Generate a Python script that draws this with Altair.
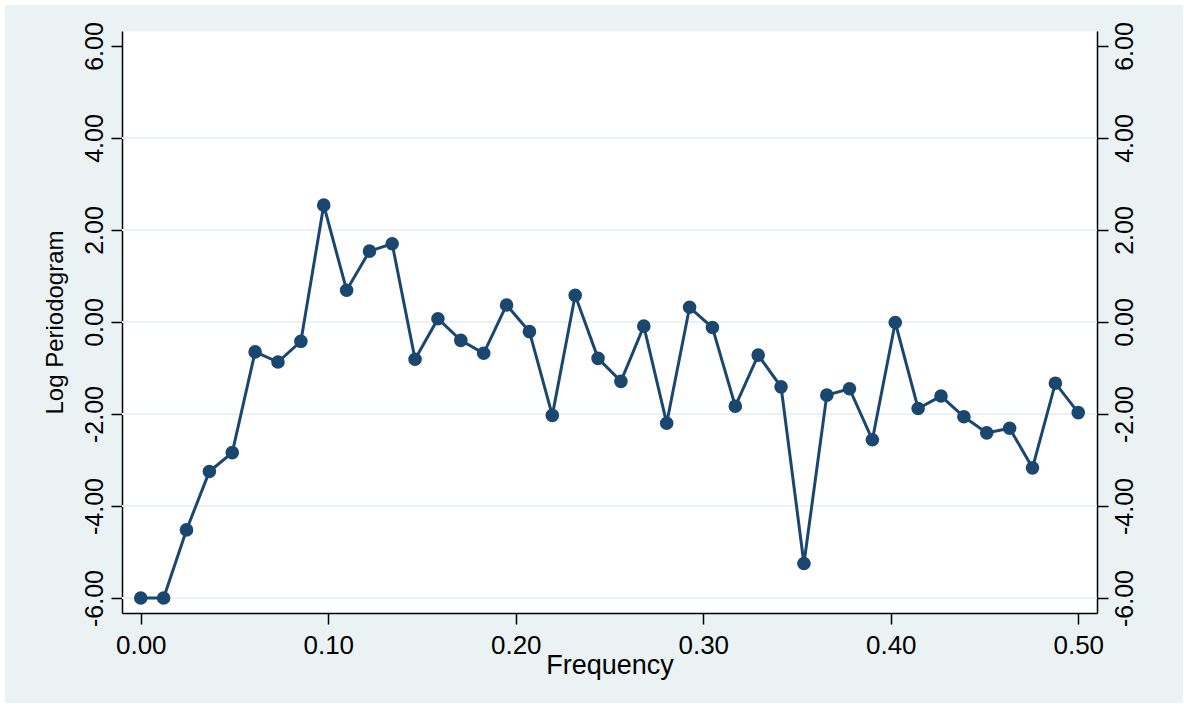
import altair as alt
import pandas as pd

# Fourier frequencies (cycles per observation) and log periodogram ordinates
freq = [
    0.0000, 0.0122, 0.0244, 0.0366, 0.0488, 0.0610, 0.0732, 0.0854, 0.0976, 0.1098,
    0.1220, 0.1341, 0.1463, 0.1585, 0.1707, 0.1829, 0.1951, 0.2073, 0.2195, 0.2317,
    0.2439, 0.2561, 0.2683, 0.2805, 0.2927, 0.3049, 0.3171, 0.3293, 0.3415, 0.3537,
    0.3659, 0.3780, 0.3902, 0.4024, 0.4146, 0.4268, 0.4390, 0.4512, 0.4634, 0.4756,
    0.4878, 0.5000,
]
log_periodogram = [
    -6.00, -6.00, -4.52, -3.25, -2.84, -0.65, -0.87, -0.42, 2.54, 0.69,
    1.54, 1.70, -0.81, 0.07, -0.40, -0.68, 0.37, -0.21, -2.03, 0.58,
    -0.79, -1.29, -0.09, -2.20, 0.32, -0.12, -1.83, -0.72, -1.41, -5.25,
    -1.59, -1.45, -2.56, -0.01, -1.88, -1.61, -2.06, -2.41, -2.31, -3.17,
    -1.33, -1.97,
]
y_ticks = [-6, -4, -2, 0, 2, 4, 6]
x_ticks = [0.0, 0.1, 0.2, 0.3, 0.4, 0.5]
grid_levels = [-6, -4, -2, 0, 2, 4]

NAVY = "#1a476f"
PANEL_BG = "#eaf2f3"
FONT = "Liberation Sans"

df = pd.DataFrame({"freq": freq, "logp": log_periodogram})
grid_df = pd.DataFrame({"level": grid_levels})

x_scale = alt.Scale(domain=[-0.01, 0.51], nice=False, zero=False)
y_scale = alt.Scale(domain=[-6.326, 6.326], nice=False, zero=False)

# two decimals, plain hyphen for negatives
label_expr = "replace(format(datum.value, '.2f'), '\u2212', '-')"

y_common = dict(
    values=y_ticks,
    labelExpr=label_expr,
    labelAngle=270,
    labelAlign="center",
    labelFont=FONT,
    labelFontSize=25,
    labelColor="black",
    labelPadding=4,
    tickSize=11,
    tickWidth=1.5,
    tickColor="black",
    domainColor="black",
    domainWidth=1.5,
    grid=False,
)
left_axis = alt.Axis(
    orient="left",
    title="Log Periodogram",
    titleFont=FONT,
    titleFontSize=24,
    titleFontWeight="normal",
    titleColor="black",
    titlePadding=15,
    labelBaseline="bottom",
    **y_common,
)
right_axis = alt.Axis(orient="right", title="", labelBaseline="top", **y_common)

x_axis = alt.Axis(
    values=x_ticks,
    labelExpr=label_expr,
    labelFont=FONT,
    labelFontSize=26,
    labelColor="black",
    labelPadding=8,
    tickSize=11,
    tickWidth=1.5,
    tickColor="black",
    domainColor="black",
    domainWidth=1.5,
    grid=False,
    title="Frequency",
    titleFont=FONT,
    titleFontSize=27,
    titleFontWeight="normal",
    titleColor="black",
    titlePadding=-6,
)

# horizontal reference lines
grid = alt.Chart(grid_df).mark_rule(color=PANEL_BG, strokeWidth=2).encode(
    y=alt.Y("level:Q", scale=y_scale, axis=left_axis)
)

x_enc = alt.X("freq:Q", scale=x_scale, axis=x_axis)
y_enc = alt.Y("logp:Q", scale=y_scale, axis=right_axis)

line = alt.Chart(df).mark_line(color=NAVY, strokeWidth=3).encode(x=x_enc, y=y_enc)
points = alt.Chart(df).mark_circle(size=185, color=NAVY, opacity=1).encode(x=x_enc, y=y_enc)
series = alt.layer(line, points)

# thin white margin around the whole graph
frame = alt.Chart(alt.Data(values=[{"frame": 1}])).mark_rect(
    fillOpacity=0, stroke="white", strokeWidth=10
).encode(
    x=alt.value(-122), x2=alt.value(1066), y=alt.value(-31), y2=alt.value(677)
)

chart = (
    alt.layer(grid, series, frame)
    .resolve_scale(y="independent")
    .properties(
        width=975,
        height=582,
        background=PANEL_BG,
        padding={"left": 122, "top": 31, "right": 87, "bottom": 91},
        autosize=alt.AutoSizeParams(type="none"),
    )
    .configure_view(fill="white", stroke="transparent")
)

chart.save("out.html", embed_options={"renderer": "svg", "actions": False})
